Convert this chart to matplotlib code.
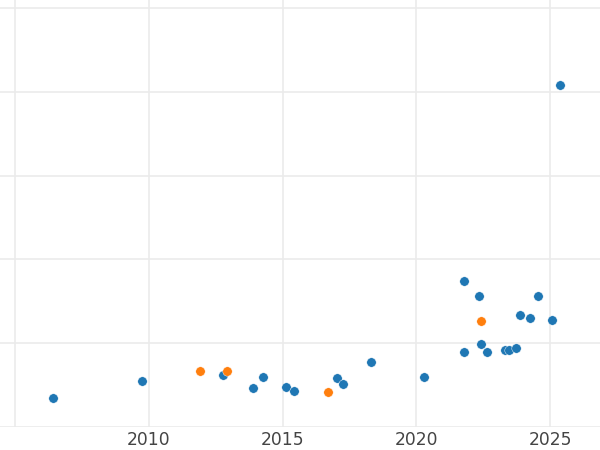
import numpy as np
import matplotlib.pyplot as plt

# blue series (year, value)
blue_x = [2006.41, 2009.74, 2012.78, 2013.89, 2014.26, 2015.14, 2015.41, 2017.04, 2017.27,
          2018.31, 2020.28, 2021.77, 2021.80, 2022.36, 2022.41, 2022.66, 2023.33, 2023.48,
          2023.74, 2023.89, 2024.26, 2024.55, 2025.06, 2025.39]
blue_y = [0.346, 0.549, 0.617, 0.469, 0.600, 0.481, 0.426, 0.585, 0.513,
          0.779, 0.600, 0.895, 1.742, 1.559, 0.994, 0.895, 0.915, 0.922,
          0.947, 1.333, 1.301, 1.567, 1.277, 4.078]

# orange series
orange_x = [2011.91, 2012.93, 2016.71, 2022.43]
orange_y = [0.668, 0.668, 0.421, 1.269]

xticks = [2005, 2010, 2015, 2020, 2025]
xticklabels = ['', '2010', '2015', '2020', '2025']
yticks = [0, 1, 2, 3, 4, 5]

fig = plt.figure(figsize=(6, 4.5), dpi=100)
ax = fig.add_axes([0, 23/450, 1, 427/450])

ax.scatter(blue_x, blue_y, s=46, color='#1f77b4', edgecolors='white', linewidths=0.3, zorder=3)
ax.scatter(orange_x, orange_y, s=46, color='#ff7f0e', edgecolors='white', linewidths=0.3, zorder=3)

ax.set_xlim(2004.426, 2026.87)
ax.set_ylim(0, 5.095)
ax.set_xticks(xticks)
ax.set_xticklabels(xticklabels)
ax.set_yticks(yticks)
ax.set_yticklabels([])
ax.tick_params(length=0, pad=3, labelsize=12.3, labelcolor='#444444')
ax.grid(True, color='#ebebeb', linewidth=1.2)
ax.set_axisbelow(True)
for s in ax.spines.values():
    s.set_visible(False)

fig.savefig('out.png', dpi=100)
